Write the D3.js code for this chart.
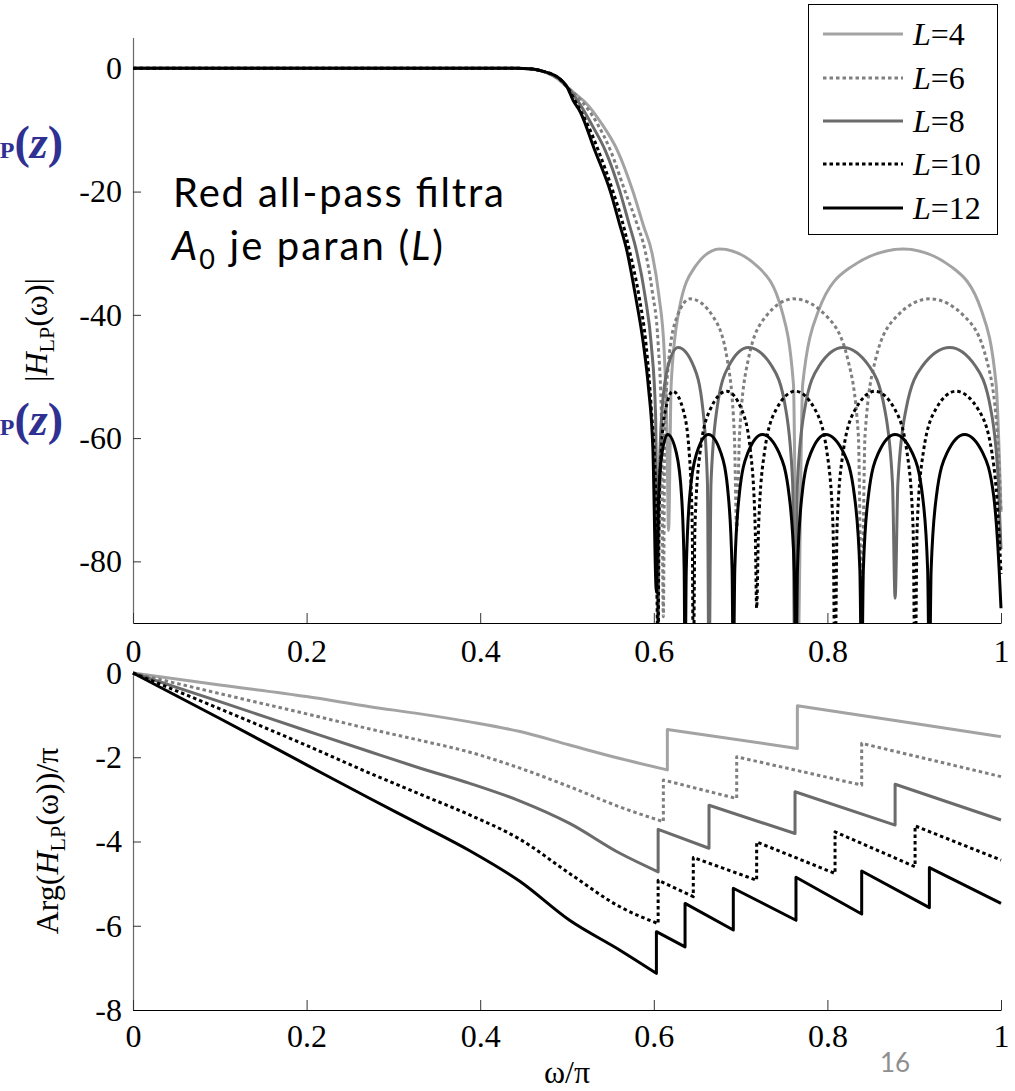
<!DOCTYPE html>
<html><head><meta charset="utf-8">
<script src="https://cdn.jsdelivr.net/npm/d3@7"></script>
<style>body{margin:0;background:#fff}svg{display:block}</style>
</head><body>
<svg id="c" width="1015" height="1091"></svg>
<script>
// ---------- data ----------
const xTicks = [0, 0.2, 0.4, 0.6, 0.8, 1];
const magTicks = [0, -20, -40, -60, -80];
const phaseTicks = [0, -2, -4, -6, -8];
const orders = [4, 6, 8, 10, 12];

const magL4 = [[0,0],[0.44,0],[0.46,-0.1],[0.47,-0.4],[0.48,-0.9],[0.49,-1.8],[0.50,-3],[0.51,-4.2],[0.521,-5.5],[0.54,-9],[0.558,-13.3],[0.576,-20],[0.588,-25.5],[0.598,-30],[0.606,-37],[0.612,-46],[0.615,-58],[0.617,-75],
 [0.6200,-51.3],[0.6290,-39.3],[0.647,-32.3],[0.676,-29.3],[0.7207,-32.3],[0.7475,-39.3],[0.7609,-51.3],[0.7654,-100],
 [0.7715,-51.3],[0.7898,-39.3],[0.8265,-32.3],[0.8875,-29.3],[0.9438,-32.3],[0.9775,-39.3],[0.9944,-51.3],[1.0,-72]];
const magL6 = [[0,0],[0.44,0],[0.46,-0.1],[0.47,-0.4],[0.48,-0.9],[0.49,-1.7],[0.50,-3],[0.516,-5.2],[0.535,-9],[0.55,-13.3],[0.567,-20],[0.58,-25],[0.590,-29.6],[0.598,-36],[0.605,-44.7],[0.609,-58],[0.611,-89],
 [0.6126,-59.4],[0.6172,-47.4],[0.6265,-40.4],[0.642,-37.4],[0.6688,-40.4],[0.6848,-47.4],[0.6928,-59.4],[0.6955,-75],
 [0.6988,-59.4],[0.7086,-47.4],[0.7283,-40.4],[0.761,-37.4],[0.8003,-40.4],[0.8238,-47.4],[0.8356,-59.4],[0.8395,-88],
 [0.8434,-59.4],[0.8552,-47.4],[0.8788,-40.4],[0.918,-37.4],[0.959,-40.4],[0.9836,-47.4],[0.9959,-59.4],[1.0,-72]];
const magL8 = [[0,0],[0.44,0],[0.46,-0.1],[0.47,-0.4],[0.48,-0.9],[0.49,-1.6],[0.50,-3],[0.512,-5.2],[0.53,-9.5],[0.544,-13.3],[0.561,-20],[0.571,-25],[0.580,-29.6],[0.590,-37],[0.597,-44.7],[0.602,-56],[0.605,-92],
 [0.6062,-67.3],[0.6096,-55.3],[0.6165,-48.3],[0.628,-45.3],[0.6458,-48.3],[0.6565,-55.3],[0.6618,-67.3],[0.6636,-100],
 [0.6659,-67.3],[0.6727,-55.3],[0.6863,-48.3],[0.709,-45.3],[0.7359,-48.3],[0.752,-55.3],[0.760,-67.3],[0.7627,-100],
 [0.7655,-67.3],[0.7738,-55.3],[0.7904,-48.3],[0.818,-45.3],[0.848,-48.3],[0.866,-55.3],[0.875,-67.3],[0.878,-86],
 [0.8812,-67.3],[0.8906,-55.3],[0.9095,-48.3],[0.941,-45.3],[0.9705,-48.3],[0.9882,-55.3],[0.997,-67.3],[1.0,-78]];
const magL10 = [[0,0],[0.44,0],[0.46,-0.1],[0.47,-0.4],[0.48,-0.8],[0.49,-1.5],[0.50,-3],[0.509,-5.2],[0.525,-9.5],[0.536,-13.3],[0.553,-20],[0.564,-25],[0.572,-29.6],[0.583,-37],[0.591,-44.7],[0.597,-55],[0.602,-68],[0.605,-95],
 [0.6059,-74.4],[0.6084,-62.4],[0.6135,-55.4],[0.622,-52.4],[0.6338,-55.4],[0.6408,-62.4],[0.6443,-74.4],[0.6455,-100],
 [0.6474,-74.4],[0.6532,-62.4],[0.6648,-55.4],[0.684,-52.4],[0.7013,-55.4],[0.7116,-62.4],[0.7168,-74.4],[0.7185,-87.6],
 [0.7207,-74.4],[0.7274,-62.4],[0.7408,-55.4],[0.763,-52.4],[0.7859,-55.4],[0.7996,-62.4],[0.8065,-74.4],[0.8088,-100],
 [0.8111,-74.4],[0.818,-62.4],[0.8319,-55.4],[0.855,-52.4],[0.878,-55.4],[0.8918,-62.4],[0.8987,-74.4],[0.901,-100],
 [0.9034,-74.4],[0.9104,-62.4],[0.9245,-55.4],[0.948,-52.4],[0.974,-55.4],[0.9896,-62.4],[0.9974,-74.4],[1.0,-82]];
const magL12 = [[0,0],[0.44,0],[0.46,-0.1],[0.47,-0.4],[0.48,-0.8],[0.49,-1.5],[0.50,-3],[0.507,-5.2],[0.515,-7.0],[0.532,-13.3],[0.550,-20],[0.560,-25],[0.569,-29.6],[0.579,-37],[0.588,-44.7],[0.594,-52],[0.599,-62],[0.603,-85],
 [0.6037,-81.4],[0.6056,-69.4],[0.6095,-62.4],[0.616,-59.4],[0.626,-62.4],[0.632,-69.4],[0.635,-81.4],[0.636,-100],
 [0.6374,-81.4],[0.6414,-69.4],[0.6495,-62.4],[0.663,-59.4],[0.6773,-62.4],[0.6859,-69.4],[0.6902,-81.4],[0.6916,-100],
 [0.6933,-81.4],[0.6983,-69.4],[0.7083,-62.4],[0.725,-59.4],[0.7444,-62.4],[0.756,-69.4],[0.7619,-81.4],[0.7638,-100],
 [0.7655,-81.4],[0.7706,-69.4],[0.7809,-62.4],[0.798,-59.4],[0.8188,-62.4],[0.8312,-69.4],[0.8374,-81.4],[0.8395,-100],
 [0.8414,-81.4],[0.8472,-69.4],[0.8588,-62.4],[0.878,-59.4],[0.8978,-62.4],[0.9096,-69.4],[0.9155,-81.4],[0.9175,-100],
 [0.9195,-81.4],[0.9256,-69.4],[0.9378,-62.4],[0.958,-59.4],[0.979,-62.4],[0.9916,-69.4],[0.9979,-81.4],[1.0,-87.6]];

const phaseL4 = [[0,0],[0.1,-0.285],[0.2,-0.56],[0.273,-0.80],[0.331,-0.97],[0.388,-1.16],[0.446,-1.39],[0.503,-1.71],[0.561,-2.03],[0.6156,-2.30],
 [0.6156,-1.34],[0.7654,-1.79],[0.7654,-0.78],[0.876,-1.12],[1.0,-1.51]];
const phaseL6 = [[0,0],[0.1,-0.49],[0.2,-0.97],[0.273,-1.33],[0.331,-1.60],[0.388,-1.88],[0.446,-2.26],[0.503,-2.70],[0.561,-3.18],[0.611,-3.53],
 [0.611,-2.54],[0.6955,-2.98],[0.6955,-1.99],[0.8395,-2.66],[0.8395,-1.67],[1.0,-2.46]];
const phaseL8 = [[0,0],[0.1,-0.68],[0.2,-1.37],[0.273,-1.87],[0.331,-2.26],[0.388,-2.62],[0.446,-3.04],[0.503,-3.57],[0.561,-4.28],[0.605,-4.72],
 [0.605,-3.71],[0.6636,-4.16],[0.6636,-3.14],[0.7627,-3.81],[0.7627,-2.82],[0.878,-3.61],[0.878,-2.64],[1.0,-3.49]];
const phaseL10 = [[0,0],[0.1,-0.85],[0.2,-1.72],[0.273,-2.38],[0.331,-2.88],[0.388,-3.37],[0.446,-3.95],[0.503,-4.76],[0.561,-5.55],[0.605,-5.95],
 [0.605,-4.92],[0.6455,-5.31],[0.6455,-4.38],[0.7185,-4.92],[0.7185,-4.01],[0.8088,-4.76],[0.8088,-3.77],[0.901,-4.60],[0.901,-3.63],[1.0,-4.44]];
const phaseL12 = [[0,0],[0.1,-1.08],[0.2,-2.18],[0.273,-2.98],[0.331,-3.60],[0.388,-4.22],[0.446,-4.95],[0.503,-5.87],[0.561,-6.58],[0.603,-7.13],
 [0.603,-6.14],[0.636,-6.50],[0.636,-5.47],[0.6916,-6.10],[0.6916,-5.11],[0.7638,-5.87],[0.7638,-4.85],[0.8395,-5.72],[0.8395,-4.70],[0.9175,-5.57],[0.9175,-4.62],[1.0,-5.47]];

const magSeries = [magL4, magL6, magL8, magL10, magL12];
const phaseSeries = [phaseL4, phaseL6, phaseL8, phaseL10, phaseL12];

// ---------- styles ----------
const styles = [
  {c:"#a3a3a3", d:null},
  {c:"#7f7f7f", d:"3.5,3"},
  {c:"#6b6b6b", d:null},
  {c:"#000000", d:"3.5,3"},
  {c:"#000000", d:null}
];
const serif = '"Liberation Serif","Times New Roman",serif';
const sans = 'Lato,"Open Sans",sans-serif';

const svg = d3.select("#c");
const x = d3.scaleLinear().domain([0,1]).range([133,1001]);
const yM = d3.scaleLinear().domain([-90,5]).range([623,37.5]);
const yP = d3.scaleLinear().domain([-8,0]).range([1010,673]);

const defs = svg.append("defs");
defs.append("clipPath").attr("id","clipM").append("rect")
  .attr("x",133).attr("y",37.5).attr("width",870).attr("height",585.5);
defs.append("clipPath").attr("id","clipP").append("rect")
  .attr("x",131).attr("y",660).attr("width",875).attr("height",350);

function styleAxis(g, domainColor){
  g.selectAll("text").attr("font-family",serif).attr("font-size",32).attr("fill","#000");
  g.select(".domain").attr("stroke",domainColor).attr("stroke-width",1.2);
  g.selectAll(".tick line").attr("stroke","#333").attr("stroke-width",1);
}
const fmt = d => String(d);

// top plot axes
svg.append("g").attr("transform","translate(133,0)")
  .call(d3.axisLeft(yM).tickValues(magTicks).tickSize(-8).tickSizeOuter(0).tickPadding(11).tickFormat(fmt))
  .call(g=>styleAxis(g,"#6a6a6a"));
svg.append("g").attr("transform","translate(0,623)")
  .call(d3.axisBottom(x).tickValues(xTicks).tickSize(-10).tickSizeOuter(0).tickPadding(16).tickFormat(fmt))
  .call(g=>styleAxis(g,"#000"));

// bottom plot axes
svg.append("g").attr("transform","translate(133,0)")
  .call(d3.axisLeft(yP).tickValues(phaseTicks).tickSize(-8).tickSizeOuter(0).tickPadding(11).tickFormat(fmt))
  .call(g=>styleAxis(g,"#6a6a6a"));
svg.append("g").attr("transform","translate(0,1010)")
  .call(d3.axisBottom(x).tickValues(xTicks).tickSize(-10).tickSizeOuter(0).tickPadding(14).tickFormat(fmt))
  .call(g=>styleAxis(g,"#000"));

// curves
const lineM = d3.line().x(d=>x(d[0])).y(d=>yM(d[1])).curve(d3.curveMonotoneX);
const lineSeg = d3.line().x(d=>x(d[0])).y(d=>yP(d[1])).curve(d3.curveMonotoneX);
// phase: smooth pieces joined by vertical jumps (consecutive points sharing an x)
function phasePath(s){
  const segs = []; let cur = [s[0]];
  for (let i=1;i<s.length;i++){
    if (s[i][0] === s[i-1][0]) { segs.push(cur); cur = [s[i]]; }
    else cur.push(s[i]);
  }
  segs.push(cur);
  return segs.map((seg,k)=>{
    const p = lineSeg(seg);
    return k===0 ? p : "L" + p.slice(1);
  }).join("");
}
const gM = svg.append("g").attr("clip-path","url(#clipM)");
const gP = svg.append("g").attr("clip-path","url(#clipP)");
magSeries.forEach((s,i)=>{
  gM.append("path").attr("d",lineM(s)).attr("fill","none")
    .attr("stroke",styles[i].c).attr("stroke-width",3)
    .attr("stroke-dasharray",styles[i].d).attr("stroke-linejoin","round");
});
phaseSeries.forEach((s,i)=>{
  gP.append("path").attr("d",phasePath(s)).attr("fill","none")
    .attr("stroke",styles[i].c).attr("stroke-width",3)
    .attr("stroke-dasharray",styles[i].d).attr("stroke-linejoin","round");
});

// axis labels
const yl1 = svg.append("text").attr("transform","translate(47,330) rotate(-90)")
  .attr("text-anchor","middle").attr("font-family",serif).attr("font-size",32);
yl1.append("tspan").text("|");
yl1.append("tspan").attr("font-style","italic").text("H");
yl1.append("tspan").attr("font-size",22).attr("dy",7).text("LP");
yl1.append("tspan").attr("dy",-7).text("(ω)|");

const yl2 = svg.append("text").attr("transform","translate(58,841) rotate(-90)")
  .attr("text-anchor","middle").attr("font-family",serif).attr("font-size",32);
yl2.append("tspan").text("Arg(");
yl2.append("tspan").attr("font-style","italic").text("H");
yl2.append("tspan").attr("font-size",22).attr("dy",7).text("LP");
yl2.append("tspan").attr("dy",-7).text("(ω))/π");

svg.append("text").attr("x",567).attr("y",1083).attr("text-anchor","middle")
  .attr("font-family",serif).attr("font-size",32).text("ω/π");

// cut-off blue labels at the left edge
[158,435].forEach(yb=>{
  const t = svg.append("text").attr("x",63).attr("y",yb).attr("text-anchor","end")
    .attr("font-family",serif).attr("font-weight","bold").attr("fill","#2e3192");
  t.append("tspan").attr("font-size",24).text("LP");
  t.append("tspan").attr("font-size",46).text("(");
  t.append("tspan").attr("font-size",46).attr("font-style","italic").text("z");
  t.append("tspan").attr("font-size",46).text(")");
});

// annotation
svg.append("text").attr("x",173).attr("y",207).attr("font-family",sans).attr("font-size",40)
  .attr("textLength",331).attr("lengthAdjust","spacing").text("Red all-pass filtra");
const a2 = svg.append("text").attr("x",172).attr("y",260).attr("font-family",sans).attr("font-size",40)
  .attr("textLength",271).attr("lengthAdjust","spacing");
a2.append("tspan").attr("font-style","italic").text("A");
a2.append("tspan").attr("font-size",27).attr("dy",9).text("0");
a2.append("tspan").attr("dy",-9).text(" je paran (");
a2.append("tspan").attr("font-style","italic").text("L");
a2.append("tspan").text(")");

// legend
svg.append("rect").attr("x",808.5).attr("y",4.5).attr("width",189).attr("height",230)
  .attr("fill","#fff").attr("stroke","#000").attr("stroke-width",1);
const rowY = [34,78,121,164,208];
orders.forEach((L,i)=>{
  svg.append("line").attr("x1",823).attr("x2",903).attr("y1",rowY[i]).attr("y2",rowY[i])
    .attr("stroke",styles[i].c).attr("stroke-width",3).attr("stroke-dasharray",styles[i].d);
  const t = svg.append("text").attr("x",913).attr("y",rowY[i]+11)
    .attr("font-family",serif).attr("font-size",32);
  t.append("tspan").attr("font-style","italic").text("L");
  t.append("tspan").text("=" + L);
});

// page number
svg.append("text").attr("x",895).attr("y",1072).attr("text-anchor","middle")
  .attr("font-family",sans).attr("font-size",26).attr("fill","#8f8f8f").text("16");
</script>
</body></html>
